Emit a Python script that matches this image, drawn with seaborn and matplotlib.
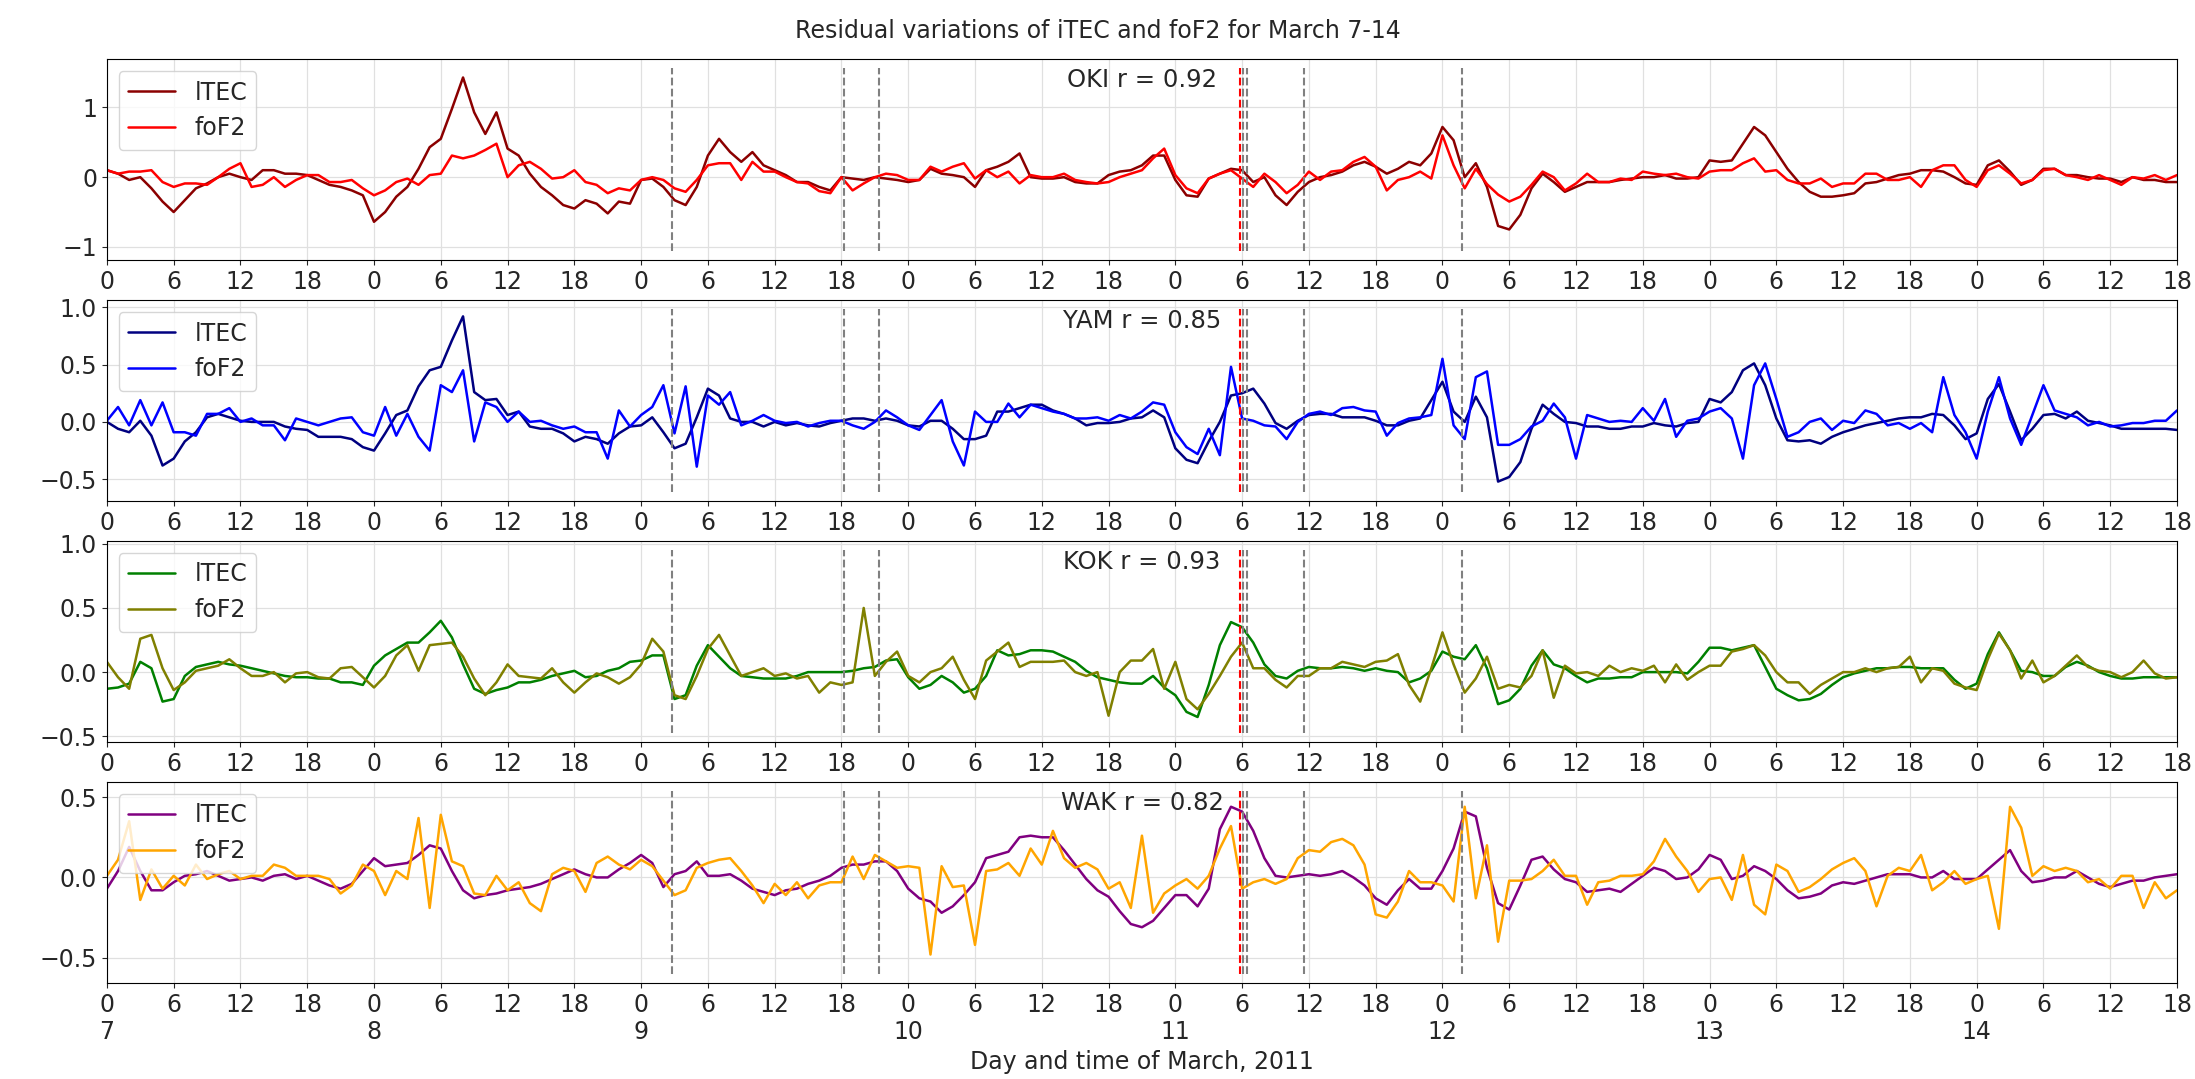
import numpy as np
import matplotlib
matplotlib.use("Agg")
import matplotlib.pyplot as plt
import seaborn as sns

# hours since 7 March 2011 00 UT
hours = np.arange(0, 187)

oki_itec = [0.1, 0.05, -0.04, 0, -0.16, -0.35, -0.5, -0.33, -0.16, -0.09,
            0, 0.05, 0, -0.04, 0.1, 0.1, 0.05, 0.05, 0.03, -0.04,
            -0.11, -0.14, -0.19, -0.26, -0.64, -0.5, -0.28, -0.14, 0.12, 0.43,
            0.55, 0.98, 1.43, 0.93, 0.62, 0.93, 0.41, 0.31, 0.05, -0.14,
            -0.26, -0.4, -0.45, -0.33, -0.38, -0.52, -0.35, -0.38, -0.04, -0.02,
            -0.14, -0.33, -0.4, -0.14, 0.31, 0.55, 0.36, 0.22, 0.36, 0.17,
            0.1, 0.03, -0.07, -0.07, -0.14, -0.19, 0, -0.02, -0.04, 0,
            -0.02, -0.04, -0.07, -0.04, 0.12, 0.05, 0.03, 0, -0.14, 0.1,
            0.15, 0.22, 0.34, 0, -0.02, -0.02, 0, -0.07, -0.09, -0.09,
            0.03, 0.08, 0.1, 0.17, 0.31, 0.31, -0.04, -0.26, -0.28, -0.02,
            0.05, 0.12, 0.1, -0.07, 0, -0.26, -0.4, -0.21, -0.07, 0,
            0.03, 0.08, 0.17, 0.22, 0.15, 0.05, 0.12, 0.22, 0.17, 0.34,
            0.72, 0.53, 0, 0.2, -0.14, -0.7, -0.75, -0.54, -0.16, 0.05,
            -0.07, -0.21, -0.14, -0.07, -0.07, -0.07, -0.04, -0.02, 0, 0,
            0.03, -0.02, -0.02, 0, 0.24, 0.22, 0.24, 0.48, 0.72, 0.6,
            0.36, 0.12, -0.07, -0.21, -0.28, -0.28, -0.26, -0.23, -0.09, -0.07,
            -0.02, 0.03, 0.05, 0.1, 0.1, 0.08, 0, -0.09, -0.11, 0.17,
            0.24, 0.08, -0.11, -0.04, 0.12, 0.12, 0.03, 0.03, 0, -0.02,
            -0.02, -0.07, 0, -0.04, -0.04, -0.07, -0.07]
oki_fof2 = [0.1, 0.05, 0.08, 0.08, 0.1, -0.07, -0.14, -0.09, -0.09, -0.11,
            0, 0.12, 0.2, -0.14, -0.11, 0, -0.14, -0.04, 0.03, 0.03,
            -0.07, -0.07, -0.04, -0.16, -0.26, -0.19, -0.07, -0.02, -0.11, 0.03,
            0.05, 0.31, 0.27, 0.31, 0.39, 0.48, 0, 0.17, 0.22, 0.12,
            -0.02, 0, 0.1, -0.07, -0.11, -0.23, -0.16, -0.19, -0.04, 0,
            -0.04, -0.16, -0.21, -0.04, 0.17, 0.2, 0.2, -0.04, 0.22, 0.08,
            0.08, 0, -0.07, -0.09, -0.2, -0.23, 0, -0.19, -0.09, 0,
            0.05, 0.03, -0.04, -0.04, 0.15, 0.08, 0.15, 0.2, -0.02, 0.1,
            0, 0.08, -0.09, 0.03, 0, 0, 0.05, -0.04, -0.07, -0.09,
            -0.07, 0, 0.05, 0.1, 0.27, 0.41, 0.03, -0.16, -0.23, -0.02,
            0.05, 0.1, -0.02, -0.14, 0.05, -0.07, -0.23, -0.11, 0.08, -0.04,
            0.08, 0.1, 0.22, 0.29, 0.15, -0.19, -0.04, 0, 0.08, -0.02,
            0.6, 0.17, -0.16, 0.12, -0.1, -0.25, -0.35, -0.28, -0.11, 0.08,
            0, -0.19, -0.09, 0.05, -0.07, -0.07, -0.02, -0.04, 0.08, 0.05,
            0.03, 0.05, 0, -0.02, 0.08, 0.1, 0.1, 0.2, 0.27, 0.08,
            0.1, -0.04, -0.09, -0.09, -0.02, -0.14, -0.09, -0.09, 0.05, 0.05,
            -0.04, -0.04, 0, -0.14, 0.1, 0.17, 0.17, -0.04, -0.14, 0.1,
            0.17, 0.05, -0.09, -0.04, 0.1, 0.12, 0.03, 0, -0.04, 0.03,
            -0.04, -0.11, 0, -0.02, 0.03, -0.04, 0.03]

yam_itec = [0, -0.06, -0.09, 0.01, -0.12, -0.38, -0.32, -0.17, -0.09, 0.04,
            0.07, 0.04, 0.01, 0, 0, 0, -0.04, -0.06, -0.07, -0.13,
            -0.13, -0.13, -0.15, -0.22, -0.25, -0.1, 0.06, 0.1, 0.31, 0.45,
            0.48, 0.71, 0.92, 0.26, 0.19, 0.2, 0.06, 0.09, -0.04, -0.06,
            -0.06, -0.1, -0.17, -0.13, -0.15, -0.19, -0.1, -0.04, -0.03, 0.04,
            -0.09, -0.23, -0.19, 0.04, 0.29, 0.23, 0.03, 0, 0, -0.04,
            0, -0.03, -0.01, -0.03, -0.04, -0.01, 0.01, 0.03, 0.03, 0.01,
            0.03, 0.01, -0.03, -0.04, 0.01, 0.01, -0.06, -0.15, -0.15, -0.12,
            0.09, 0.09, 0.12, 0.15, 0.15, 0.1, 0.07, 0.03, -0.03, -0.01,
            -0.01, 0, 0.03, 0.04, 0.1, 0.04, -0.23, -0.33, -0.36, -0.17,
            0, 0.23, 0.25, 0.29, 0.16, -0.01, -0.06, 0.01, 0.06, 0.07,
            0.07, 0.04, 0.04, 0.04, 0.01, -0.03, -0.03, 0.01, 0.03, 0.19,
            0.35, 0.09, 0, 0.22, 0.04, -0.52, -0.48, -0.35, -0.06, 0.15,
            0.07, 0, -0.01, -0.04, -0.04, -0.06, -0.06, -0.04, -0.04, -0.01,
            -0.03, -0.04, -0.01, 0, 0.2, 0.17, 0.26, 0.45, 0.51, 0.32,
            0.03, -0.16, -0.17, -0.16, -0.19, -0.13, -0.09, -0.06, -0.03, -0.01,
            0.01, 0.03, 0.04, 0.04, 0.07, 0.06, -0.03, -0.15, -0.1, 0.2,
            0.33, 0.09, -0.16, -0.06, 0.06, 0.07, 0.03, 0.09, 0.01, -0.01,
            -0.03, -0.06, -0.06, -0.06, -0.06, -0.06, -0.07]
yam_fof2 = [0.01, 0.13, -0.03, 0.19, -0.03, 0.17, -0.09, -0.09, -0.12, 0.07,
            0.07, 0.12, 0, 0.03, -0.03, -0.03, -0.16, 0.03, 0, -0.03,
            0, 0.03, 0.04, -0.09, -0.12, 0.13, -0.12, 0.07, -0.13, -0.25,
            0.32, 0.26, 0.45, -0.17, 0.17, 0.13, 0, 0.09, 0, 0.01,
            -0.03, -0.06, -0.04, -0.09, -0.09, -0.32, 0.1, -0.04, 0.06, 0.13,
            0.32, -0.1, 0.31, -0.39, 0.23, 0.15, 0.26, -0.03, 0.01, 0.06,
            0.01, -0.01, 0, -0.04, -0.01, 0.01, 0.01, -0.03, -0.06, 0,
            0.1, 0.04, -0.03, -0.07, 0.06, 0.19, -0.17, -0.38, 0.09, 0,
            0, 0.16, 0.04, 0.15, 0.12, 0.09, 0.07, 0.03, 0.03, 0.04,
            0.01, 0.06, 0.03, 0.09, 0.17, 0.15, -0.09, -0.22, -0.28, -0.06,
            -0.29, 0.48, 0.03, 0.01, -0.03, -0.04, -0.15, 0, 0.07, 0.09,
            0.06, 0.12, 0.13, 0.1, 0.09, -0.12, -0.01, 0.03, 0.04, 0.06,
            0.55, -0.03, -0.15, 0.39, 0.44, -0.2, -0.2, -0.15, -0.04, 0.01,
            0.16, 0.04, -0.32, 0.06, 0.03, 0, 0.01, 0, 0.12, 0.01,
            0.2, -0.13, 0.01, 0.03, 0.09, 0.12, 0.03, -0.32, 0.32, 0.51,
            0.2, -0.13, -0.09, 0, 0.03, -0.07, 0.01, -0.01, 0.1, 0.07,
            -0.03, -0.01, -0.06, -0.01, -0.09, 0.39, 0.06, -0.09, -0.32, 0.09,
            0.39, 0.03, -0.2, 0.06, 0.32, 0.1, 0.07, 0.04, -0.03, 0,
            -0.04, -0.03, -0.01, -0.01, 0.01, 0.01, 0.1]

kok_itec = [-0.13, -0.12, -0.09, 0.08, 0.03, -0.23, -0.21, -0.03, 0.04, 0.06,
            0.08, 0.06, 0.05, 0.03, 0.01, -0.01, -0.03, -0.04, -0.04, -0.05,
            -0.05, -0.08, -0.08, -0.1, 0.05, 0.13, 0.18, 0.23, 0.23, 0.31,
            0.4, 0.27, 0.06, -0.13, -0.17, -0.14, -0.12, -0.08, -0.08, -0.06,
            -0.03, -0.01, 0.01, -0.04, -0.03, 0.01, 0.03, 0.08, 0.09, 0.13,
            0.13, -0.21, -0.18, 0.05, 0.21, 0.12, 0.03, -0.03, -0.04, -0.05,
            -0.05, -0.05, -0.03, 0, 0, 0, 0, 0.01, 0.03, 0.04,
            0.09, 0.1, -0.04, -0.13, -0.1, -0.03, -0.08, -0.16, -0.13, -0.03,
            0.17, 0.13, 0.14, 0.17, 0.17, 0.16, 0.12, 0.08, 0.01, -0.04,
            -0.06, -0.08, -0.09, -0.09, -0.03, -0.12, -0.18, -0.31, -0.35, -0.1,
            0.21, 0.39, 0.35, 0.23, 0.06, -0.03, -0.05, 0.01, 0.04, 0.03,
            0.03, 0.04, 0.03, 0.01, 0.03, 0.01, 0, -0.08, -0.05, 0.01,
            0.16, 0.12, 0.1, 0.21, 0.03, -0.25, -0.22, -0.13, 0.05, 0.17,
            0.06, 0.03, -0.03, -0.08, -0.05, -0.05, -0.04, -0.04, 0, 0,
            0, 0, -0.01, 0.08, 0.19, 0.19, 0.17, 0.19, 0.21, 0.04,
            -0.13, -0.18, -0.22, -0.21, -0.17, -0.1, -0.04, -0.01, 0.01, 0.03,
            0.03, 0.04, 0.04, 0.03, 0.03, 0.03, -0.06, -0.13, -0.09, 0.14,
            0.31, 0.17, 0.01, 0, -0.03, -0.03, 0.04, 0.08, 0.05, 0,
            -0.03, -0.05, -0.05, -0.04, -0.04, -0.04, -0.04]
kok_fof2 = [0.08, -0.04, -0.13, 0.26, 0.29, 0.03, -0.14, -0.08, 0.01, 0.03,
            0.05, 0.1, 0.03, -0.03, -0.03, 0, -0.08, -0.01, 0, -0.04,
            -0.05, 0.03, 0.04, -0.04, -0.12, -0.03, 0.13, 0.21, 0.01, 0.21,
            0.22, 0.23, 0.12, -0.05, -0.18, -0.08, 0.06, -0.03, -0.04, -0.05,
            0.03, -0.08, -0.16, -0.08, -0.01, -0.04, -0.09, -0.04, 0.06, 0.26,
            0.16, -0.18, -0.21, -0.03, 0.18, 0.29, 0.13, -0.03, 0, 0.03,
            -0.03, -0.01, -0.05, -0.03, -0.16, -0.08, -0.1, -0.08, 0.5, -0.03,
            0.08, 0.16, -0.03, -0.08, 0, 0.03, 0.12, -0.06, -0.21, 0.09,
            0.16, 0.23, 0.04, 0.08, 0.08, 0.08, 0.09, 0, -0.03, 0,
            -0.34, 0, 0.09, 0.09, 0.18, -0.13, 0.08, -0.21, -0.29, -0.17,
            -0.03, 0.12, 0.23, 0.03, 0.03, -0.06, -0.12, -0.03, -0.03, 0.03,
            0.03, 0.08, 0.06, 0.04, 0.08, 0.09, 0.14, -0.1, -0.23, 0.03,
            0.31, 0.06, -0.16, -0.05, 0.12, -0.13, -0.1, -0.12, -0.03, 0.17,
            -0.2, 0.05, -0.01, 0, -0.03, 0.05, 0, 0.03, 0.01, 0.05,
            -0.08, 0.06, -0.06, 0, 0.05, 0.05, 0.16, 0.18, 0.21, 0.13,
            0, -0.08, -0.08, -0.17, -0.1, -0.05, 0, 0, 0.03, 0,
            0.03, 0.04, 0.12, -0.08, 0.03, 0.01, -0.09, -0.12, -0.14, 0.1,
            0.3, 0.17, -0.05, 0.09, -0.08, -0.03, 0.05, 0.13, 0.04, 0.01,
            0, -0.04, 0, 0.09, -0.01, -0.05, -0.04]

wak_itec = [-0.07, 0.04, 0.19, 0.04, -0.08, -0.08, -0.03, 0.01, 0.02, 0.04,
            0.01, -0.02, -0.01, 0, -0.02, 0.01, 0.02, -0.01, 0.01, -0.02,
            -0.05, -0.07, -0.04, 0.04, 0.12, 0.07, 0.08, 0.09, 0.14, 0.2,
            0.18, 0.04, -0.08, -0.13, -0.11, -0.1, -0.08, -0.07, -0.06, -0.04,
            -0.01, 0.02, 0.05, 0.02, 0, 0, 0.05, 0.09, 0.14, 0.09,
            -0.06, 0.02, 0.04, 0.1, 0.01, 0.01, 0.02, -0.02, -0.07, -0.09,
            -0.11, -0.08, -0.07, -0.04, -0.02, 0.01, 0.06, 0.08, 0.08, 0.1,
            0.1, 0.04, -0.07, -0.13, -0.15, -0.22, -0.18, -0.11, -0.03, 0.12,
            0.14, 0.16, 0.25, 0.26, 0.25, 0.25, 0.17, 0.08, -0.01, -0.08,
            -0.12, -0.21, -0.29, -0.31, -0.27, -0.19, -0.11, -0.11, -0.18, -0.07,
            0.3, 0.44, 0.41, 0.29, 0.12, 0.01, 0, 0.01, 0.02, 0.01,
            0.02, 0.04, 0, -0.05, -0.13, -0.17, -0.08, -0.01, -0.07, -0.07,
            0.04, 0.18, 0.41, 0.38, 0.06, -0.16, -0.2, -0.05, 0.11, 0.13,
            0.05, -0.01, -0.03, -0.09, -0.08, -0.07, -0.09, -0.04, 0.01, 0.06,
            0.04, -0.01, 0, 0.05, 0.14, 0.11, -0.01, 0.01, 0.07, 0.04,
            -0.01, -0.08, -0.13, -0.12, -0.1, -0.05, -0.03, -0.04, -0.02, 0,
            0.02, 0.02, 0.02, 0, 0, 0.04, -0.01, -0.01, -0.01, 0.05,
            0.11, 0.17, 0.04, -0.03, -0.02, 0, 0, 0.04, 0, -0.04,
            -0.06, -0.04, -0.02, -0.02, 0, 0.01, 0.02]
wak_fof2 = [0.01, 0.11, 0.35, -0.14, 0.05, -0.07, 0.01, -0.05, 0.08, -0.01,
            0.02, 0.04, -0.01, 0.01, 0.01, 0.08, 0.06, 0.01, 0.01, 0.01,
            -0.01, -0.1, -0.05, 0.08, 0.04, -0.11, 0.04, -0.01, 0.37, -0.19,
            0.39, 0.1, 0.07, -0.1, -0.11, 0.01, -0.08, -0.03, -0.16, -0.21,
            0.02, 0.06, 0.04, -0.09, 0.09, 0.13, 0.08, 0.05, 0.11, 0.07,
            -0.02, -0.11, -0.08, 0.06, 0.09, 0.11, 0.12, 0.04, -0.05, -0.16,
            -0.04, -0.11, -0.03, -0.13, -0.05, -0.03, -0.03, 0.13, -0.01, 0.14,
            0.1, 0.06, 0.07, 0.06, -0.48, 0.07, -0.06, -0.05, -0.42, 0.04,
            0.05, 0.09, 0.01, 0.18, 0.08, 0.29, 0.12, 0.06, 0.09, 0.05,
            -0.07, -0.03, -0.19, 0.26, -0.22, -0.1, -0.05, -0.01, -0.07, 0.01,
            0.18, 0.32, -0.07, -0.03, -0.01, -0.04, -0.01, 0.12, 0.17, 0.16,
            0.22, 0.24, 0.2, 0.08, -0.23, -0.25, -0.15, 0.04, -0.03, -0.03,
            -0.05, -0.15, 0.44, -0.13, 0.2, -0.4, -0.02, -0.02, -0.01, 0.04,
            0.11, 0.01, 0.01, -0.17, -0.03, -0.02, 0.01, 0.01, 0.02, 0.1,
            0.24, 0.13, 0.04, -0.09, -0.01, 0, -0.14, 0.14, -0.17, -0.23,
            0.08, 0.04, -0.09, -0.06, -0.01, 0.05, 0.09, 0.12, 0.04, -0.18,
            0.01, 0.06, 0.04, 0.14, -0.08, -0.03, 0.04, -0.04, -0.01, 0.01,
            -0.32, 0.44, 0.31, 0.01, 0.07, 0.04, 0.06, 0.04, -0.03, -0.01,
            -0.07, 0.01, 0.01, -0.19, -0.03, -0.13, -0.08]

stations = ['OKI', 'YAM', 'KOK', 'WAK']
r_values = [0.92, 0.85, 0.93, 0.82]
itec_series = [oki_itec, yam_itec, kok_itec, wak_itec]
fof2_series = [oki_fof2, yam_fof2, kok_fof2, wak_fof2]
itec_colors = ['darkred', 'navy', 'green', 'purple']
fof2_colors = ['red', 'blue', 'olive', 'orange']
ylims = [(-1.19, 1.69), (-0.69, 1.06), (-0.545, 1.02), (-0.657, 0.593)]
yticks = [[-1, 0, 1], [-0.5, 0.0, 0.5, 1.0], [-0.5, 0.0, 0.5, 1.0], [-0.5, 0.0, 0.5]]

# event times (hours from March 7 00 UT)
events = [50.75, 66.27, 69.4, 102.1, 102.4, 107.6, 121.78]
main_shock = 101.77
days = [7, 8, 9, 10, 11, 12, 13, 14]

sns.set_style('ticks')
fs = 17

fig, axes = plt.subplots(4, 1, figsize=(21.95, 10.79), dpi=100)
fig.subplots_adjust(left=0.0487, right=0.9918, top=0.945, bottom=0.089, hspace=0.2)

xt = np.arange(0, 187, 6)
xt_labels = [str(h % 24) for h in xt]
xt_labels_bottom = [f"{h % 24}\n{days[h // 24]}" if h % 24 == 0 else str(h % 24) for h in xt]

for i, ax in enumerate(axes):
    ax.grid(True, color='#e0e0e0', linewidth=0.9)
    ax.set_axisbelow(True)
    sns.lineplot(x=hours, y=itec_series[i], ax=ax, color=itec_colors[i], lw=1.8, label='lTEC')
    sns.lineplot(x=hours, y=fof2_series[i], ax=ax, color=fof2_colors[i], lw=1.8, label='foF2')
    for t in events:
        ax.axvline(t, ymin=0.045, ymax=0.955, color='gray', ls='--', lw=1.5)
    ax.axvline(main_shock, ymin=0.045, ymax=0.955, color='red', ls='--', lw=1.5)
    ax.text(0.5, 0.895, f"{stations[i]} r = {r_values[i]}", transform=ax.transAxes,
            ha='center', va='center', fontsize=fs + 0.5)
    ax.set_xlim(0, 186)
    ax.set_ylim(*ylims[i])
    ax.set_yticks(yticks[i])
    ax.set_xticks(xt)
    ax.set_xticklabels(xt_labels_bottom if i == 3 else xt_labels)
    ax.tick_params(labelsize=fs)
    ax.legend(loc='upper left', fontsize=fs)
    for s in ax.spines.values():
        s.set_color('black')

axes[3].set_xlabel('Day and time of March, 2011', fontsize=fs)
fig.suptitle('Residual variations of iTEC and foF2 for March 7-14', fontsize=fs, y=0.971, va='center')

fig.savefig('out.png', dpi=100)
